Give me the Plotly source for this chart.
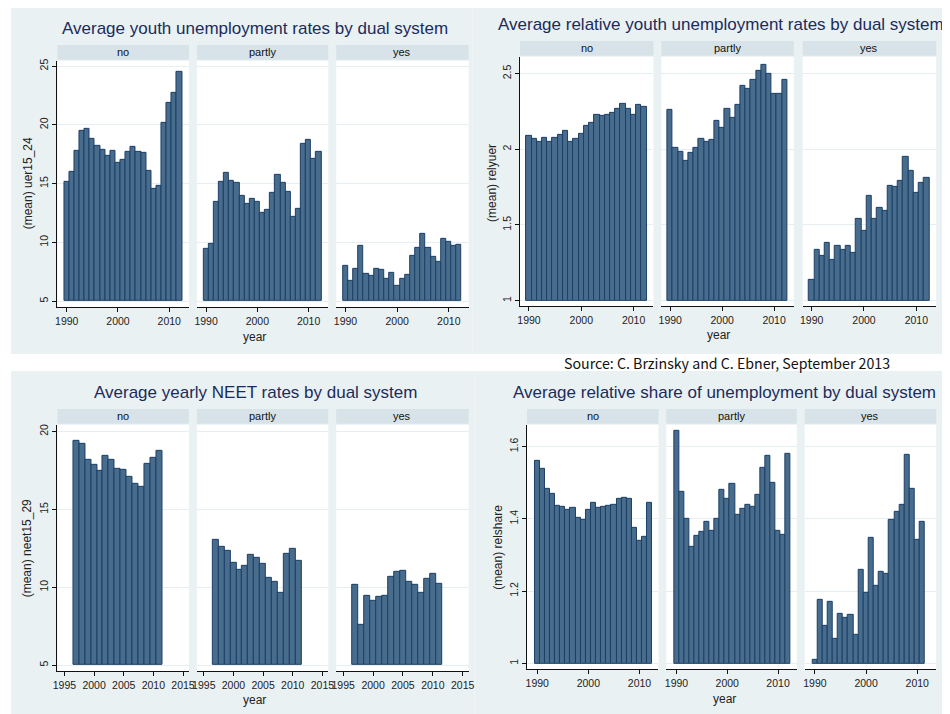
import plotly.graph_objects as go
import numpy as np

facets = ["no", "partly", "yes"]

# --- data ---
years_90_12 = list(range(1990, 2013))
years_90_11 = list(range(1990, 2012))
years_97_11 = list(range(1997, 2012))

uer_no = [15.15, 16.0, 17.76, 19.5, 19.7, 18.8, 18.2, 17.9, 17.4, 17.8, 16.8, 17.0,
          17.7, 18.1, 17.7, 17.6, 16.1, 14.6, 14.8, 20.2, 21.9, 22.7, 24.5]
uer_partly = [9.47, 9.87, 13.46, 15.18, 15.9, 15.27, 15.07, 13.97, 13.3, 13.7, 13.46, 12.5,
              12.8, 14.2, 15.75, 15.1, 14.28, 12.2, 12.86, 18.35, 18.7, 17.1, 17.7]
uer_yes = [8.03, 6.7, 7.77, 9.72, 7.3, 7.18, 7.74, 7.66, 6.92, 7.38, 6.3, 6.92,
           7.26, 8.85, 9.55, 10.74, 9.55, 8.73, 8.37, 10.3, 10.06, 9.67, 9.8]

rel_no = [2.085, 2.065, 2.05, 2.078, 2.05, 2.078, 2.095, 2.12, 2.05, 2.065, 2.1, 2.157,
          2.174, 2.23, 2.22, 2.225, 2.24, 2.266, 2.297, 2.266, 2.23, 2.29, 2.28]
rel_partly = [2.26, 2.01, 1.984, 1.923, 1.977, 2.01, 2.07, 2.05, 2.06, 2.19, 2.14, 2.266,
              2.207, 2.29, 2.42, 2.40, 2.456, 2.52, 2.56, 2.5, 2.364, 2.364, 2.46]
rel_yes = [1.14, 1.335, 1.295, 1.383, 1.267, 1.36, 1.337, 1.36, 1.313, 1.538, 1.46, 1.695,
           1.538, 1.612, 1.59, 1.76, 1.752, 1.794, 1.947, 1.857, 1.71, 1.778, 1.81]

neet_no = [19.4, 19.2, 18.2, 17.85, 17.5, 18.43, 18.17, 17.58, 17.53, 17.07, 16.65, 16.43,
           17.92, 18.3, 18.77]
neet_partly = [13.05, 12.6, 12.35, 11.6, 11.1, 11.37, 12.07, 11.9, 11.52, 10.63, 10.37, 9.65,
               12.12, 12.5, 11.67]
neet_yes = [10.14, 7.59, 9.46, 9.12, 9.38, 9.46, 10.65, 11.0, 11.08, 10.35, 10.14, 9.63,
            10.57, 10.84, 10.2]

share_no = [1.56, 1.539, 1.482, 1.47, 1.436, 1.432, 1.426, 1.431, 1.404, 1.396, 1.426, 1.445,
            1.43, 1.432, 1.437, 1.44, 1.455, 1.458, 1.456, 1.374, 1.34, 1.351, 1.443]
share_partly = [1.643, 1.475, 1.4, 1.322, 1.354, 1.363, 1.392, 1.367, 1.401, 1.479, 1.455, 1.496,
                1.41, 1.427, 1.44, 1.434, 1.465, 1.542, 1.575, 1.5, 1.367, 1.355, 1.58]
share_yes = [1.009, 1.176, 1.104, 1.171, 1.067, 1.137, 1.127, 1.135, 1.079, 1.259, 1.194, 1.346,
             1.214, 1.253, 1.249, 1.396, 1.42, 1.438, 1.578, 1.482, 1.343, 1.393]

panels = [
    dict(title="Average youth unemployment rates by dual system", ytitle="(mean) uer15_24",
         x=[years_90_12, years_90_12, years_90_12], y=[uer_no, uer_partly, uer_yes],
         base=5, yticks=[5, 10, 15, 20, 25], xticks=[1990, 2000, 2010],
         xr=[1988.2, 2013.85], yr=[4.49, 25.45],
         bg=(6, 473, 5, 353), strip=(43, 58), plot=(58, 306),
         cols=[(53, 186), (194, 327), (335, 469)],
         tpos=(253, 27), ytx=23, yty=182, yearpos=(252, 336)),
    dict(title="Average relative youth unemployment rates by dual system", ytitle="(mean) relyuer",
         x=[years_90_12, years_90_12, years_90_12], y=[rel_no, rel_partly, rel_yes],
         base=1, yticks=[1, 1.5, 2, 2.5], xticks=[1990, 2000, 2010],
         xr=[1988.3, 2013.8], yr=[0.963, 2.61],
         bg=(473, 950, 0, 353), strip=(39, 54), plot=(54, 305),
         cols=[(521, 656), (664, 798), (807, 942)],
         tpos=(724, 23), ytx=492, yty=181, yearpos=(722, 334)),
    dict(title="Average yearly NEET rates by dual system", ytitle="(mean) neet15_29",
         x=[years_97_11, years_97_11, years_97_11], y=[neet_no, neet_partly, neet_yes],
         base=5, yticks=[5, 10, 15, 20], xticks=[1995, 2000, 2005, 2010, 2015],
         xr=[1993.83, 2016], yr=[4.62, 20.43],
         bg=(6, 475, 370, 714), strip=(408, 423), plot=(423, 671),
         cols=[(53, 186), (194, 327), (335, 469)],
         tpos=(253, 392), ytx=23, yty=548, yearpos=(252, 700)),
    dict(title="Average relative share of unemployment by dual system", ytitle="(mean) relshare",
         x=[years_90_12, years_90_12, years_90_11], y=[share_no, share_partly, share_yes],
         base=1, yticks=[1, 1.2, 1.4, 1.6], xticks=[1990, 2000, 2010],
         xr=[1988.0, 2013.7], yr=[0.984, 1.66],
         bg=(475, 950, 370, 714), strip=(408, 423), plot=(423, 669),
         cols=[(528, 661), (669, 801), (809, 942)],
         tpos=(728, 392), ytx=499, yty=547, yearpos=(728, 699)),
]

W, H = 950, 714
OFF = 8  # the page body adds an 8px margin around the figure
BG = "#EAF1F3"
STRIP = "#D7E3E9"
BAR = "#486C8C"
BAR_LINE = "#1C3F66"
GRID = "#E6EEF1"
TITLE_C = "#1B2C5A"
FONT = "Liberation Sans, Arial, sans-serif"


def px(x):
    return (x - OFF) / W


def py(y):
    return 1 - (y - OFF) / H


def label(text, x, y, size, color="#222", angle=0, family=FONT):
    return dict(text=text, x=px(x), y=py(y), xref="paper", yref="paper", showarrow=False,
                xanchor="center", yanchor="middle", textangle=angle,
                font=dict(size=size, color=color, family=family))


fig = go.Figure()
shapes = []
annotations = []
layout_axes = {}

k = 0
for p in panels:
    x0, x1, y0, y1 = p["bg"]
    shapes.append(dict(type="rect", xref="paper", yref="paper", layer="below",
                       x0=px(x0), x1=px(x1), y0=py(y1), y1=py(y0),
                       fillcolor=BG, line=dict(width=0)))
    annotations.append(label(p["title"], p["tpos"][0], p["tpos"][1], 17, TITLE_C))
    annotations.append(label(p["ytitle"], p["ytx"], p["yty"], 12, angle=-90))
    annotations.append(label("year", p["yearpos"][0], p["yearpos"][1], 12))
    for j, name in enumerate(facets):
        k += 1
        sfx = "" if k == 1 else str(k)
        c0, c1 = p["cols"][j]
        # strip
        shapes.append(dict(type="rect", xref="paper", yref="paper", layer="below",
                           x0=px(c0), x1=px(c1), y0=py(p["strip"][1]), y1=py(p["strip"][0]),
                           fillcolor=STRIP, line=dict(width=0)))
        # white plot region
        shapes.append(dict(type="rect", xref="paper", yref="paper", layer="below",
                           x0=px(c0), x1=px(c1), y0=py(p["plot"][1]), y1=py(p["strip"][1] + 1),
                           fillcolor="white", line=dict(width=0)))
        annotations.append(label(name, (c0 + c1) / 2, (p["strip"][0] + p["strip"][1]) / 2,
                                 11, "#111"))
        xs = p["x"][j]
        vals = np.array(p["y"][j]) - p["base"]
        fig.add_trace(go.Bar(x=xs, y=vals, base=p["base"], width=1,
                             marker=dict(color=BAR, line=dict(color=BAR_LINE, width=1)),
                             showlegend=False, xaxis="x" + sfx, yaxis="y" + sfx))
        first = j == 0
        layout_axes["xaxis" + sfx] = dict(
            domain=[px(c0), px(c1)], anchor="y" + sfx, range=p["xr"],
            tickvals=p["xticks"], ticks="outside", ticklen=4, tickcolor="#111",
            showline=True, linecolor="#111", linewidth=1, showgrid=False, zeroline=False,
            tickfont=dict(size=10.5, color="#222", family=FONT),
        )
        layout_axes["yaxis" + sfx] = dict(
            domain=[py(p["plot"][1]), py(p["strip"][1] + 1)], anchor="x" + sfx, range=p["yr"],
            tickvals=p["yticks"], ticks="outside" if first else "", ticklen=4, tickcolor="#111",
            showticklabels=first, tickangle=-90, showline=first, linecolor="#111", linewidth=1,
            showgrid=True, gridcolor=GRID, gridwidth=1, zeroline=False,
            tickfont=dict(size=10.5, color="#222", family=FONT),
        )

annotations.append(label("Source: C. Brzinsky and C. Ebner, September 2013", 730, 362, 14.2,
                         "#111", family="Noto Sans CJK JP, sans-serif"))

fig.update_layout(
    width=W, height=H, margin=dict(l=0, r=0, t=0, b=0),
    paper_bgcolor="white", plot_bgcolor="rgba(0,0,0,0)",
    bargap=0, shapes=shapes, annotations=annotations,
    font=dict(family=FONT), **layout_axes,
)

fig.write_html("out.html")
